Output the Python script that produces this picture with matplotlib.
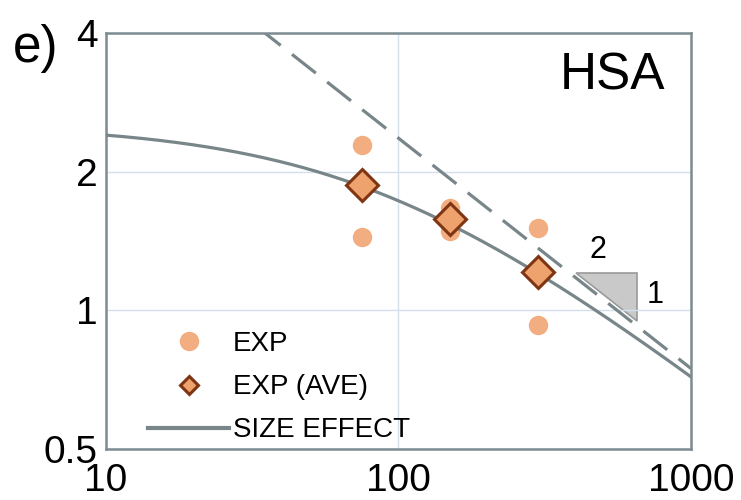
import matplotlib.pyplot as plt
import numpy as np
from matplotlib.lines import Line2D

plt.rcParams["font.family"] = ["Liberation Sans", "DejaVu Sans"]

# specimen size D and measured nominal strength
exp_d = [75, 75, 150, 150, 300, 300]
exp_sigma = [2.29, 1.44, 1.67, 1.49, 1.51, 0.93]
ave_d = [75, 150, 300]
ave_sigma = [1.87, 1.58, 1.21]

# size effect law parameters
B_ft = 2.535
D0 = 87.0

x_ticks = [10, 100, 1000]
y_ticks = [0.5, 1, 2, 4]
y_tick_labels = ["0.5", "1", "2", "4"]

# slope 1:2 triangle corners
tri_x = [404, 653, 653]
tri_y = [1.205, 1.205, 0.948]

LINE_GRAY = "#78868a"
DOT = "#f2ad80"
DIA_FACE = "#eea36f"
DIA_EDGE = "#7f3512"


def main():
    fig = plt.figure(figsize=(7.41, 5.0), dpi=100)
    ax = fig.add_axes([0.143, 0.102, 0.7895, 0.832])

    d = np.logspace(1, 3, 400)
    sigma = B_ft / np.sqrt(1 + d / D0)
    asym = B_ft * np.sqrt(D0 / d)

    ax.plot(d, asym, color=LINE_GRAY, lw=2.3, dashes=(9.5, 4.5), zorder=2)
    ax.fill(tri_x, tri_y, facecolor="#c9c9c9", edgecolor="#9a9a9a", lw=1.2, zorder=1)
    ax.text(481, 1.35, "2", fontsize=22, ha="center", va="center")
    ax.text(753, 1.08, "1", fontsize=22, ha="center", va="center")

    ax.plot(exp_d, exp_sigma, "o", ms=14, color=DOT, mec="none", zorder=3)
    ax.plot(d, sigma, color=LINE_GRAY, lw=2.3, zorder=4)
    ax.plot(ave_d, ave_sigma, "D", ms=16, mfc=DIA_FACE, mec=DIA_EDGE, mew=2.2,
            ls="none", zorder=5)

    ax.set_xscale("log")
    ax.set_yscale("log")
    ax.set_xlim(10, 1000)
    ax.set_ylim(0.5, 4)
    ax.set_xticks(x_ticks)
    ax.set_xticklabels([str(t) for t in x_ticks])
    ax.set_yticks(y_ticks)
    ax.set_yticklabels(y_tick_labels)
    ax.minorticks_off()
    ax.tick_params(length=0, labelsize=28)
    ax.tick_params(axis="x", pad=10)
    ax.tick_params(axis="y", pad=6)
    ax.grid(True, color="#d3e0ec", lw=1.0)
    for sp in ax.spines.values():
        sp.set_color("#7d8c91")
        sp.set_linewidth(1.8)

    ax.text(0.956, 0.863, "HSA", transform=ax.transAxes, fontsize=37,
            ha="right", va="baseline")
    fig.text(13 / 741, 1 - 62 / 500, "e)", fontsize=37, va="baseline")

    handles = [
        Line2D([], [], marker="o", ls="none", ms=14, color=DOT, mec="none"),
        Line2D([], [], marker="D", ls="none", ms=9, mfc=DIA_FACE, mec=DIA_EDGE, mew=2.2),
        Line2D([], [], color=LINE_GRAY, lw=3),
    ]
    ax.legend(handles, ["EXP", "EXP (AVE)", "SIZE EFFECT"], loc="lower left",
              bbox_to_anchor=(0.063, 0.0), frameon=False, fontsize=20,
              borderpad=0, borderaxespad=0.2, handlelength=2.9,
              handletextpad=0.15, labelspacing=0.62)

    fig.savefig("out.png", dpi=100)


if __name__ == "__main__":
    main()
